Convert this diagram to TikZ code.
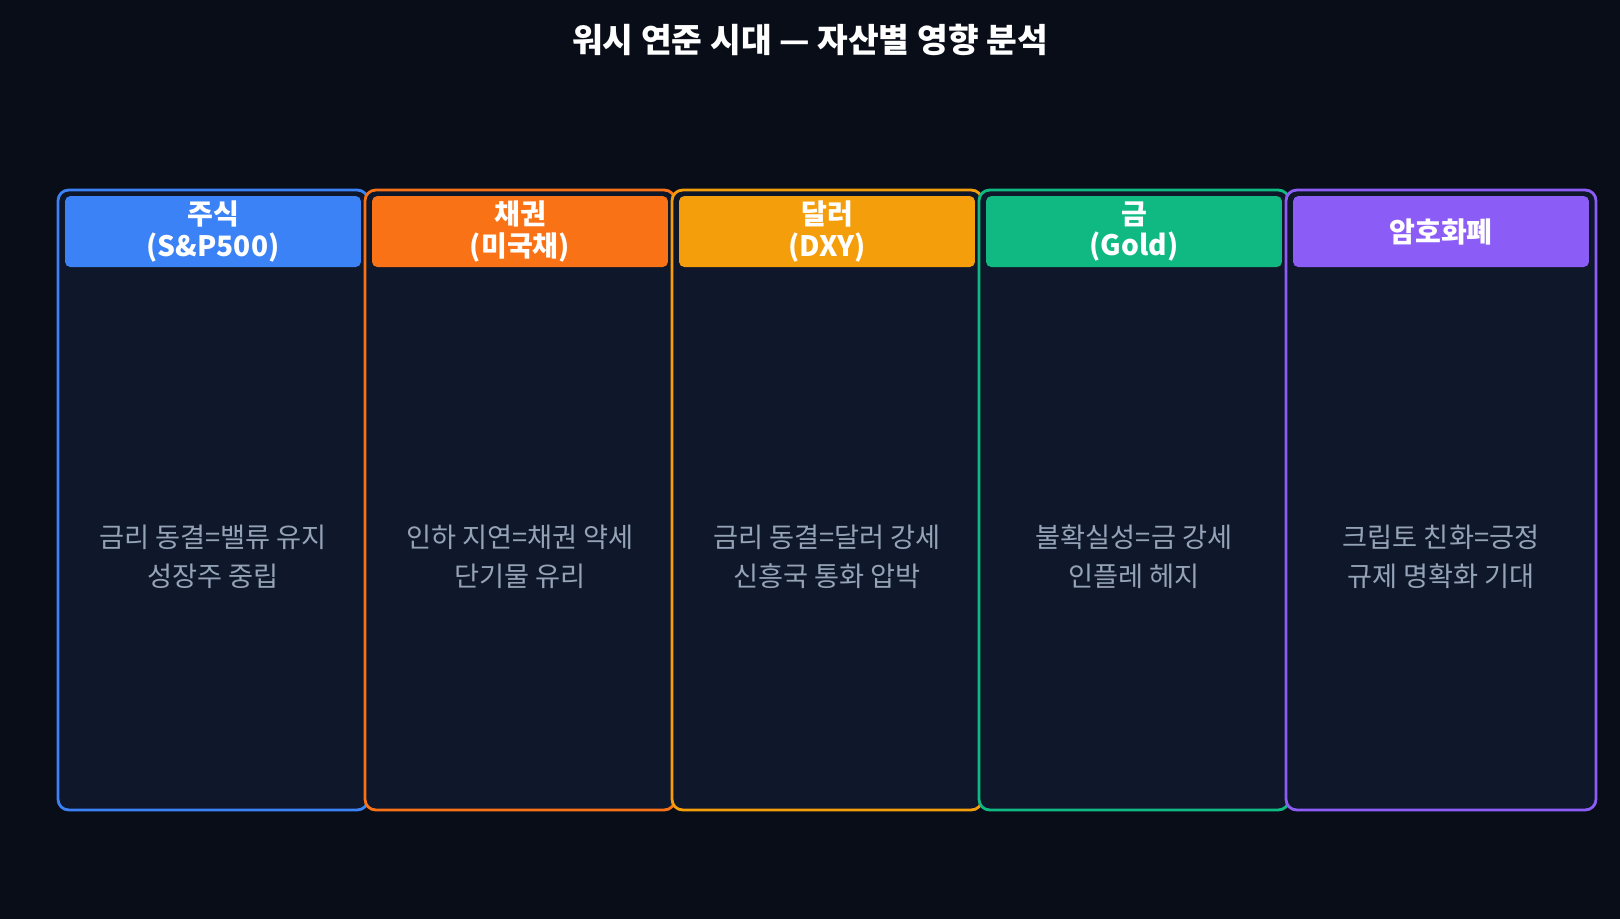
\documentclass[tikz,border=0pt]{standalone}
\usepackage{fontspec}
\setmainfont{Noto Sans CJK KR}
\usetikzlibrary{positioning}
\definecolor{bgc}{HTML}{080D18}
\definecolor{cardc}{HTML}{0F172A}
\definecolor{bodyc}{HTML}{94A3B8}
\definecolor{cA}{HTML}{3B82F6}
\definecolor{cB}{HTML}{F97316}
\definecolor{cC}{HTML}{F59E0B}
\definecolor{cD}{HTML}{10B981}
\definecolor{cE}{HTML}{8B5CF6}
\tikzset{
  card/.style={draw=#1, line width=1.6pt, fill=cardc, rounded corners=6pt,
    minimum width=6.2cm, minimum height=12.4cm, inner sep=0pt},
  head/.style={fill=#1, rounded corners=3pt, minimum width=5.92cm,
    minimum height=1.42cm, inner sep=0pt, text=white, align=center,
    font=\fontsize{16}{18}\selectfont\bfseries},
  body/.style={text=bodyc, align=center, font=\fontsize{15.5}{22}\selectfont},
}
\begin{document}
\begin{tikzpicture}[x=0.02cm,y=-0.02cm]
\fill[bgc] (0,0) rectangle (1620,919);
\useasboundingbox (0,0) rectangle (1620,919);
\node[text=white, font=\fontsize{19}{22}\selectfont\bfseries] (title) at (810,40) {워시 연준 시대 — 자산별 영향 분석};
\foreach \i/\col/\hd/\bd in {
  0/cA/{주식\\(S\&P500)}/{금리 동결=밸류 유지\\성장주 중립},
  1/cB/{채권\\(미국채)}/{인하 지연=채권 약세\\단기물 유리},
  2/cC/{달러\\(DXY)}/{금리 동결=달러 강세\\신흥국 통화 압박},
  3/cD/{금\\(Gold)}/{불확실성=금 강세\\인플레 헤지},
  4/cE/{암호화폐}/{크립토 친화=긍정\\규제 명확화 기대}}{
  \node[card=\col] (card\i) at ({213+307*\i},500) {};
  \node[head=\col, below=4pt of card\i.north] (head\i) {\hd};
  \node[body] (body\i) at ({213+307*\i},557) {\bd};
}
\end{tikzpicture}
\end{document}
